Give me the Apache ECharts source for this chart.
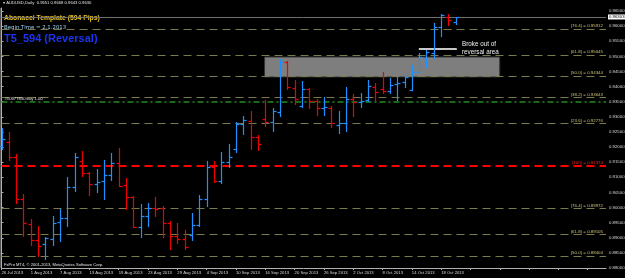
<!DOCTYPE html>
<html><head><meta charset="utf-8">
<script src="https://cdn.jsdelivr.net/npm/echarts@6/dist/echarts.min.js"></script>
<style>html,body{margin:0;padding:0;background:#000;}#c{width:625px;height:278px;}</style>
</head><body><div id="c"></div>
<script>
const dates = ['26 Jul 2013','29 Jul 2013','30 Jul 2013','31 Jul 2013','1 Aug 2013','2 Aug 2013','5 Aug 2013','6 Aug 2013','7 Aug 2013','8 Aug 2013',
 '9 Aug 2013','12 Aug 2013','13 Aug 2013','14 Aug 2013','15 Aug 2013','16 Aug 2013','19 Aug 2013','20 Aug 2013','21 Aug 2013','22 Aug 2013',
 '23 Aug 2013','26 Aug 2013','27 Aug 2013','28 Aug 2013','29 Aug 2013','30 Aug 2013','2 Sep 2013','3 Sep 2013','4 Sep 2013','5 Sep 2013',
 '6 Sep 2013','9 Sep 2013','10 Sep 2013','11 Sep 2013','12 Sep 2013','13 Sep 2013','16 Sep 2013','17 Sep 2013','18 Sep 2013','19 Sep 2013',
 '20 Sep 2013','23 Sep 2013','24 Sep 2013','25 Sep 2013','26 Sep 2013','27 Sep 2013','30 Sep 2013','1 Oct 2013','2 Oct 2013','3 Oct 2013',
 '4 Oct 2013','7 Oct 2013','8 Oct 2013','9 Oct 2013','10 Oct 2013','11 Oct 2013','14 Oct 2013','15 Oct 2013','16 Oct 2013','17 Oct 2013',
 '18 Oct 2013','21 Oct 2013','22 Oct 2013'];
const opens = [0.92036,0.92168,0.91672,0.90283,0.89456,0.88927,0.88794,0.88960,0.89522,0.89654,
 0.90679,0.91540,0.91143,0.90779,0.90878,0.91076,0.91474,0.90746,0.90349,0.89356,
 0.89720,0.89985,0.89985,0.89489,0.89059,0.88960,0.89092,0.89423,0.90283,0.91341,
 0.90878,0.91507,0.91937,0.92764,0.92863,0.92334,0.92929,0.92830,0.93161,0.94814,
 0.93954,0.93359,0.93921,0.93524,0.93293,0.93293,0.92731,0.92797,0.93591,0.93491,
 0.93558,0.93987,0.93921,0.93855,0.94087,0.94153,0.93888,0.94484,0.94914,0.95112,
 0.95972,0.96303,0.96138];
const highs = [0.92632,0.92499,0.91771,0.90448,0.89621,0.89390,0.89026,0.89720,0.89952,0.91010,
 0.91804,0.91871,0.91176,0.91275,0.91573,0.91804,0.91970,0.90977,0.90382,0.90117,
 0.90150,0.90349,0.90051,0.89555,0.89489,0.89257,0.89819,0.90415,0.91540,0.91540,
 0.91837,0.92102,0.92830,0.93028,0.93194,0.92400,0.93558,0.93293,0.94914,0.94848,
 0.94219,0.94186,0.93954,0.93591,0.93657,0.93359,0.93194,0.93987,0.93756,0.93789,
 0.94219,0.94120,0.94484,0.94285,0.94351,0.94484,0.94715,0.95112,0.95211,0.96105,
 0.96402,0.96402,0.96303];
const lows = [0.91904,0.91540,0.90117,0.89026,0.88728,0.88364,0.88265,0.88728,0.88861,0.89356,
 0.90514,0.91010,0.90382,0.90481,0.90250,0.90878,0.90679,0.89919,0.89323,0.88993,
 0.89356,0.89687,0.88993,0.88596,0.88794,0.88596,0.88894,0.89356,0.90018,0.90812,
 0.90779,0.91308,0.91804,0.92400,0.91904,0.91871,0.92665,0.92499,0.92995,0.93888,
 0.93392,0.93293,0.93260,0.93028,0.93028,0.92632,0.92433,0.92499,0.92995,0.93293,
 0.93491,0.93491,0.93756,0.93756,0.93524,0.93954,0.93855,0.94451,0.94616,0.94914,
 0.95641,0.96005,0.96038];
const closes = [0.92267,0.91672,0.90283,0.89489,0.88927,0.88728,0.88993,0.89489,0.89654,0.90679,
 0.91672,0.91143,0.90779,0.90845,0.91076,0.91474,0.90713,0.90349,0.89356,0.89720,
 0.89985,0.89952,0.89489,0.89059,0.88960,0.88695,0.89423,0.90283,0.91341,0.90878,
 0.91507,0.91672,0.92764,0.92896,0.92334,0.92102,0.92830,0.93194,0.94814,0.93987,
 0.93591,0.93921,0.93524,0.93293,0.93326,0.92797,0.92797,0.93591,0.93491,0.93524,
 0.94021,0.93822,0.93855,0.94054,0.94120,0.94318,0.94484,0.94980,0.95145,0.95972,
 0.96369,0.96204,0.96303];
const fibRatios = ['76.4','61.8','50.0','38.2','23.6','100','76.4','61.8','50.0'];
const fibPrices = [0.95912,0.95045,0.94344,0.93643,0.92776,0.91374,0.89972,0.89105,0.88404];
const orderPrice = 0.93491;
const orderLabel = '#10977830 buy 1.00';
const boxX = [35.9, 68.0];
const boxY = [0.94980, 0.94318];
const noteX = [56.96, 62.14];
const noteY = 0.95244;
const noteText = 'Broke out of\nreversal area';
const headerText = '\u25BE AUDUSD,Daily  0.9651 0.9668 0.9643 0.9630';
const title1 = 'Abonacci Template (594 Pips)';
const title2 = 'Begin Time = 2.1.2013';
const title3 = 'T5_594 (Reversal)';
const footer = 'FxPro MT4, \u00A9 2001-2013, MetaQuotes Software Corp.';

const UP = '#1e90ff', DOWN = '#f00000';
const FONT = 'Liberation Sans';
const ohlc = opens.map((o, i) => [i, o, highs[i], lows[i], closes[i]]);
const lastClose = closes[closes.length - 1];

const fibLines = fibPrices.map((p, i) => {
  const isRed = fibRatios[i] === '100';
  return {
    yAxis: p,
    lineStyle: isRed ? {color: '#ff0000', width: 2, type: [8, 5]} : {color: '#7a7a4c', width: 1, type: [8, 5]},
    label: {show: true, position: 'insideEndTop', distance: [3, 1], fontSize: 4.4, fontFamily: FONT,
      color: isRed ? '#ff2020' : '#c8c07a', formatter: '(' + fibRatios[i] + ') = ' + p.toFixed(5)}
  };
});

const chart = echarts.init(document.getElementById('c'), null, {renderer: 'canvas'});
chart.setOption({
  backgroundColor: '#000',
  animation: false,
  grid: {left: 1.5, right: 19, top: 8, bottom: 10, containLabel: false, outerBoundsMode: 'none'},
  xAxis: {
    type: 'value', min: 0, max: 82.5, interval: 4,
    axisLine: {show: true, lineStyle: {color: '#b0b0b0', width: 1}},
    axisTick: {show: true, length: 2, lineStyle: {color: '#b0b0b0'}},
    splitLine: {show: false},
    axisLabel: {show: true, align: 'left', margin: 3, fontSize: 4.2, fontFamily: FONT, color: '#d8d8d8',
      showMaxLabel: false, hideOverlap: false, formatter: v => (Number.isInteger(v) && v < dates.length) ? dates[v] : ''}
  },
  yAxis: {
    type: 'value', position: 'right', min: 0.880, max: 0.966, interval: 0.005,
    axisLine: {show: true, lineStyle: {color: '#b0b0b0', width: 1}},
    axisTick: {show: true, length: 2, lineStyle: {color: '#b0b0b0'}},
    splitLine: {show: false},
    axisLabel: {show: true, margin: 3, fontSize: 4.3, fontFamily: FONT, color: '#d8d8d8',
      showMaxLabel: false, hideOverlap: false, formatter: v => v.toFixed(5)}
  },
  series: [
    {
      type: 'custom', z: 1, silent: true, data: [[boxX[0], boxY[0], boxX[1], boxY[1]]], clip: false,
      encode: {x: [0, 2], y: [1, 3]},
      renderItem: (params, api) => {
        const a = api.coord([api.value(0), api.value(1)]);
        const b = api.coord([api.value(2), api.value(3)]);
        return {type: 'rect', shape: {x: a[0], y: a[1], width: b[0] - a[0], height: b[1] - a[1]},
          style: {fill: '#7e7e7e', stroke: '#333', lineWidth: 1}};
      }
    },
    {
      type: 'custom', z: 2, silent: true, data: [[noteX[0], noteY, noteX[1]]], clip: false,
      encode: {x: [0, 2], y: 1},
      renderItem: (params, api) => {
        const a = api.coord([api.value(0), api.value(1)]);
        const b = api.coord([api.value(2), api.value(1)]);
        return {type: 'line', shape: {x1: a[0], y1: a[1], x2: b[0], y2: b[1]}, style: {stroke: '#c8c8c8', lineWidth: 2}};
      }
    },
    {
      type: 'custom', z: 5, data: ohlc, clip: false,
      encode: {x: 0, y: [1, 2, 3, 4]},
      markLine: {silent: true, symbol: 'none', animation: false, precision: 5,
        data: fibLines.concat([
          {yAxis: orderPrice, lineStyle: {color: '#1f8a1f', width: 1.5, type: [6, 3, 2, 3]},
           label: {show: true, position: 'insideStartTop', distance: [3, 1], fontSize: 4.2, fontFamily: FONT, color: '#e8e8e8', formatter: orderLabel}},
          {yAxis: lastClose, lineStyle: {color: '#6e6e6e', width: 1, type: 'solid'},
           label: {show: true, position: 'end', distance: 2, fontSize: 4.3, fontFamily: FONT, color: '#000', backgroundColor: '#fff',
             padding: [1, 1, 0, 1], formatter: lastClose.toFixed(5)}}
        ])},
      renderItem: (params, api) => {
        const x = api.value(0), o = api.value(1), h = api.value(2), l = api.value(3), c = api.value(4);
        const pH = api.coord([x, h]), pL = api.coord([x, l]), pO = api.coord([x, o]), pC = api.coord([x, c]);
        const col = c >= o ? UP : DOWN;
        const px = Math.round(pH[0]) + 0.5;
        const st = {stroke: col, lineWidth: 1.2};
        return {type: 'group', children: [
          {type: 'line', shape: {x1: px, y1: pH[1], x2: px, y2: pL[1]}, style: st},
          {type: 'line', shape: {x1: px - 3, y1: Math.round(pO[1]) + 0.5, x2: px, y2: Math.round(pO[1]) + 0.5}, style: st},
          {type: 'line', shape: {x1: px, y1: Math.round(pC[1]) + 0.5, x2: px + 3, y2: Math.round(pC[1]) + 0.5}, style: st}
        ]};
      }
    }
  ],
  graphic: [
    {type: 'line', shape: {x1: 1, y1: 8, x2: 1, y2: 268}, style: {stroke: '#a0a0a0', lineWidth: 1}},
    {type: 'text', left: 3, top: 1, style: {text: headerText, fontSize: 4.2, fontFamily: FONT, fill: '#e0e0e0'}},
    {type: 'text', left: 4, top: 15, style: {text: title1, fontSize: 6.8, fontWeight: 'bold', fontFamily: FONT, fill: '#e8c41c'}},
    {type: 'text', left: 4, top: 25, style: {text: title2, fontSize: 5.4, fontFamily: 'DejaVu Sans', fill: '#9fd0f2'}},
    {type: 'text', left: 4, top: 33, style: {text: title3, fontSize: 11, fontWeight: 'bold', fontFamily: FONT, fill: '#1c34f0'}},
    {type: 'text', left: 4, top: 263, style: {text: footer, fontSize: 4.1, fontFamily: FONT, fill: '#e0e0e0'}},
    {type: 'text', left: 462, top: 40, z: 10, style: {text: noteText, fontSize: 6.3, lineHeight: 8, fontFamily: FONT, fill: '#f0f0f0'}}
  ]
});
</script></body></html>
